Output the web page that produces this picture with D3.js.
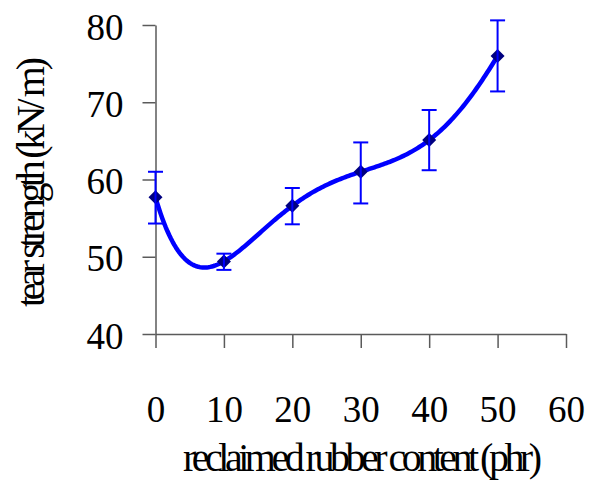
<!DOCTYPE html>
<html>
<head>
<meta charset="utf-8">
<script src="https://cdn.jsdelivr.net/npm/d3@7"></script>
<style>
  html, body { margin: 0; padding: 0; background: #fff; }
  svg { display: block; }
</style>
</head>
<body>
<svg id="chart" width="589" height="482" font-family="'Liberation Serif', 'Times New Roman', Times, serif"></svg>
<script>
// Reclaimed rubber content (phr) and measured tear strength (kN/m)
const content = [0, 10, 20, 30, 40, 50];
const strength = [57.7, 49.4, 56.6, 61.0, 65.1, 76.0];
const errUpper = [61.0, 50.4, 58.9, 64.8, 69.0, 80.6];
const errLower = [54.3, 48.3, 54.2, 56.9, 61.2, 71.4];
const xTicks = [0, 10, 20, 30, 40, 50, 60];
const yTicks = [40, 50, 60, 70, 80];
const xTitle = "reclaimed rubber content (phr)";
const yTitle = "tear strength (kN/ m)";

const serif = "'Liberation Serif', 'Times New Roman', Times, serif";
const svg = d3.select("#chart");

const x = d3.scaleLinear().domain([0, 60]).range([155.5, 566]);
const y = d3.scaleLinear().domain([40, 80]).range([334, 25]);

const axisColor = "#5a5a5a";

// Y axis
const gy = svg.append("g")
  .attr("transform", `translate(${x(0)},0)`)
  .call(d3.axisLeft(y).tickValues(yTicks).tickSize(13).tickSizeOuter(0).tickPadding(19));
gy.attr("font-family", serif).attr("font-size", 37);
gy.selectAll("text").attr("dy", 0).attr("y", 14).attr("fill", "#000");

// X axis
const gx = svg.append("g")
  .attr("transform", `translate(0,${y(40)})`)
  .call(d3.axisBottom(x).tickValues(xTicks).tickSize(14).tickSizeOuter(0));
gx.attr("font-family", serif).attr("font-size", 37);
gx.selectAll("text").attr("dy", 0).attr("y", 88).attr("fill", "#000");

svg.selectAll(".domain, .tick line").attr("stroke", axisColor).attr("stroke-width", 1.5);

// Axis titles (tightly set)
svg.append("text")
  .attr("x", 183).attr("y", 471)
  .attr("font-size", 40)
  .attr("textLength", 359).attr("lengthAdjust", "spacing")
  .text(xTitle);

svg.append("text")
  .attr("transform", "translate(44,307) rotate(-90)")
  .attr("font-size", 40)
  .attr("textLength", 250).attr("lengthAdjust", "spacing")
  .text(yTitle);

// Polynomial trendline (order 5) through the measured points
function trend(t) {
  let s = 0;
  for (let i = 0; i < content.length; i++) {
    let term = strength[i];
    for (let j = 0; j < content.length; j++) {
      if (j !== i) term *= (t - content[j]) / (content[i] - content[j]);
    }
    s += term;
  }
  return s;
}
const samples = d3.range(0, 50.001, 0.25);
svg.append("path")
  .datum(samples)
  .attr("fill", "none")
  .attr("stroke", "#0000ff")
  .attr("stroke-width", 4.5)
  .attr("stroke-linejoin", "round")
  .attr("stroke-linecap", "round")
  .attr("d", d3.line().x(d => x(d)).y(d => y(trend(d))));

const pts = content.map((c, i) => ({ c, v: strength[i], hi: errUpper[i], lo: errLower[i] }));

// Diamond markers
const r = 7;
svg.append("g").selectAll("path").data(pts).join("path")
  .attr("fill", "#000080")
  .attr("d", p => {
    const cx = x(p.c), cy = y(p.v);
    return `M${cx},${cy - r}L${cx + r},${cy}L${cx},${cy + r}L${cx - r},${cy}Z`;
  });

// Error bars
const eb = svg.append("g").attr("stroke", "#0000ff").attr("stroke-width", 2);
pts.forEach(p => {
  eb.append("line").attr("x1", x(p.c)).attr("x2", x(p.c)).attr("y1", y(p.hi)).attr("y2", y(p.lo));
  eb.append("line").attr("x1", x(p.c) - 7.5).attr("x2", x(p.c) + 7.5).attr("y1", y(p.hi)).attr("y2", y(p.hi));
  eb.append("line").attr("x1", x(p.c) - 7.5).attr("x2", x(p.c) + 7.5).attr("y1", y(p.lo)).attr("y2", y(p.lo));
});
</script>
</body>
</html>
